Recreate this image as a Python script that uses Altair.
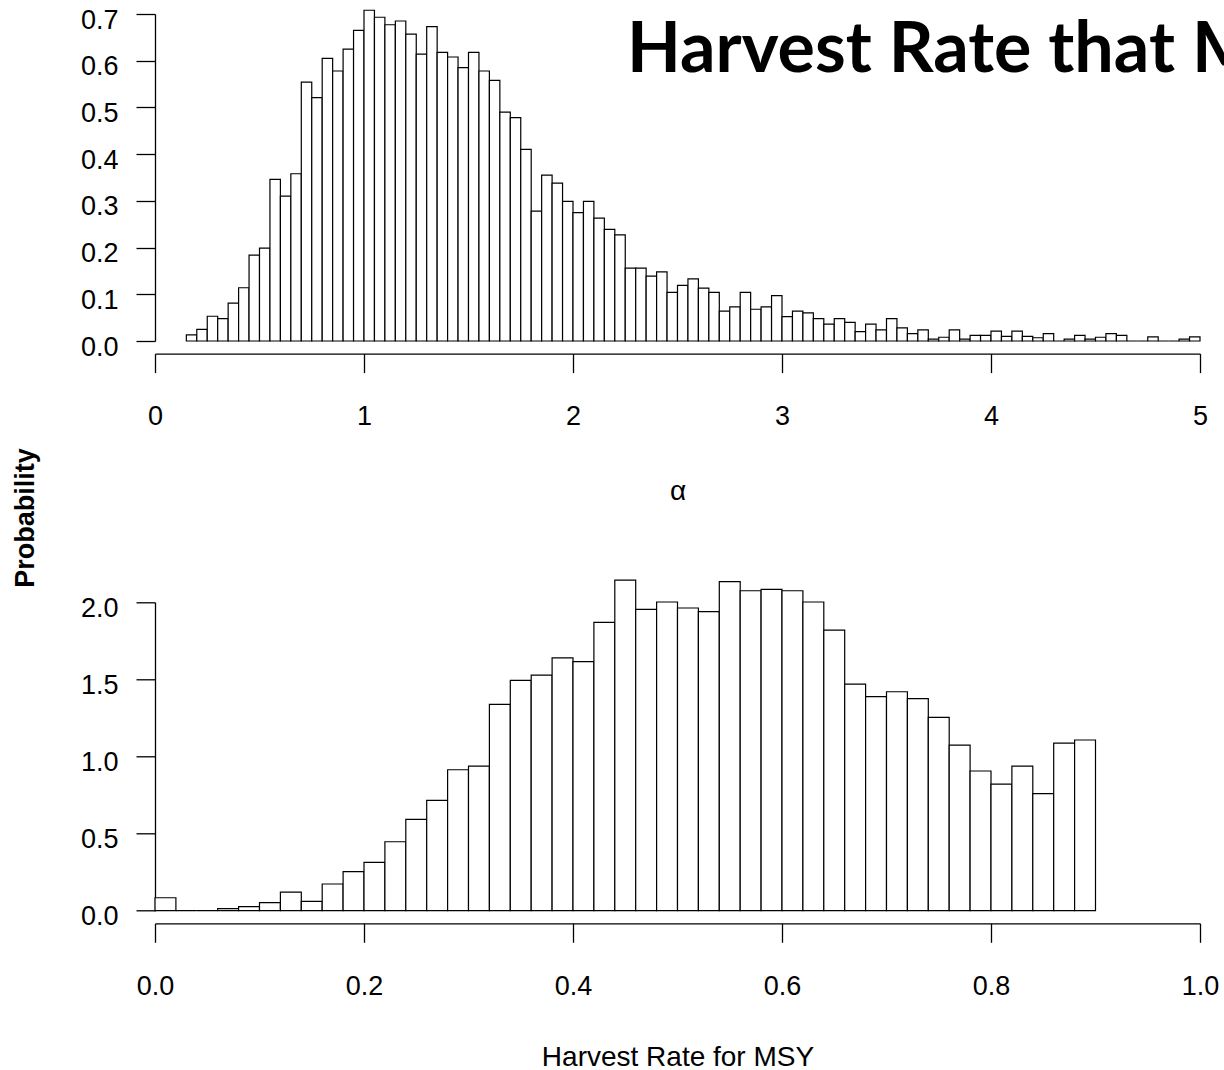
import altair as alt
import pandas as pd

# ---------------- data ----------------
# Top panel: posterior density of alpha, bins of width 0.05 starting at 0.15
alpha_first_bin = 0.15
alpha_bin_width = 0.05
alpha_density = [
    0.013, 0.025, 0.053, 0.048, 0.081, 0.114, 0.184, 0.199, 0.346, 0.310,
    0.358, 0.554, 0.521, 0.605, 0.578, 0.625, 0.665, 0.708, 0.693, 0.677,
    0.685, 0.657, 0.614, 0.673, 0.618, 0.608, 0.585, 0.618, 0.578, 0.558,
    0.490, 0.478, 0.410, 0.278, 0.355, 0.338, 0.299, 0.275, 0.299, 0.263,
    0.239, 0.227, 0.156, 0.156, 0.139, 0.148, 0.104, 0.119, 0.133, 0.113,
    0.104, 0.064, 0.073, 0.104, 0.068, 0.073, 0.097, 0.052, 0.064, 0.060,
    0.048, 0.036, 0.048, 0.040, 0.020, 0.036, 0.024, 0.048, 0.028, 0.016,
    0.024, 0.004, 0.008, 0.024, 0.004, 0.012, 0.012, 0.021, 0.010, 0.021,
    0.010, 0.007, 0.016, 0.000, 0.004, 0.012, 0.004, 0.008, 0.016, 0.012,
    0.000, 0.000, 0.009, 0.000, 0.000, 0.004, 0.009,
]
alpha_ticks = [0, 1, 2, 3, 4, 5]
alpha_yticks = [0.0, 0.1, 0.2, 0.3, 0.4, 0.5, 0.6, 0.7]

# Bottom panel: harvest rate for MSY, bins of width 0.02 starting at 0
hr_first_bin = 0.0
hr_bin_width = 0.02
hr_density = [
    0.084, 0.000, 0.000, 0.013, 0.026, 0.052, 0.121, 0.061, 0.173, 0.253,
    0.313, 0.447, 0.592, 0.716, 0.914, 0.938, 1.338, 1.494, 1.528, 1.639,
    1.615, 1.870, 2.144, 1.954, 2.002, 1.963, 1.939, 2.134, 2.075, 2.084,
    2.075, 2.002, 1.820, 1.470, 1.388, 1.420, 1.375, 1.254, 1.074, 0.906,
    0.821, 0.938, 0.759, 1.087, 1.107,
]
hr_ticks = [0.0, 0.2, 0.4, 0.6, 0.8, 1.0]
hr_yticks = [0.0, 0.5, 1.0, 1.5, 2.0]

title_text = "Harvest Rate that M"
ylab_text = "Probability"
top_xlab = "α"
bot_xlab = "Harvest Rate for MSY"


def hist_frame(first, width, dens):
    starts = [round(first + i * width, 4) for i in range(len(dens))]
    ends = [round(s + width, 4) for s in starts]
    return pd.DataFrame({"start": starts, "end": ends, "density": dens})


df_top = hist_frame(alpha_first_bin, alpha_bin_width, alpha_density)
df_bot = hist_frame(hr_first_bin, hr_bin_width, hr_density)

# ---------------- styling ----------------
FONT = "Liberation Sans"
W = 1045            # plot width of each panel
W_TOP_VIEW = 1069   # top view reaches the right edge so the title is cut there
H_TOP = 327
H_BOT = 308.4

axis_style = dict(
    grid=False,
    domainColor="black",
    domainWidth=1.3,
    tickColor="black",
    tickWidth=1.3,
    tickSize=19,
    labelFont=FONT,
    labelFontSize=27,
    labelColor="black",
    labelOverlap=False,
    labelFlush=False,
    titleFont=FONT,
    titleFontSize=28,
    titleFontWeight="normal",
    titleColor="black",
)

bar_style = dict(fill="white", stroke="black", strokeWidth=1.2)


def x_axis(values, fmt, title, title_x, title_y):
    return alt.Axis(
        values=values, format=fmt, offset=12.6, labelPadding=31,
        title=title, titleBaseline="alphabetic", titleX=title_x, titleY=title_y,
        titleAlign="center", **axis_style,
    )


def y_axis(values):
    return alt.Axis(
        values=values, format=".1f", labelPadding=18, labelOffset=6,
        title=None, **axis_style,
    )


# ---------------- top panel ----------------
frame = alt.Chart(pd.DataFrame({"k": [0]})).mark_rect(
    fill="white", fillOpacity=0, strokeOpacity=0
).encode(
    x=alt.value(-155), x2=alt.value(1224 - 155),
    y=alt.value(-14), y2=alt.value(1070 - 14),
)

bars_top = alt.Chart(df_top).mark_rect(**bar_style).encode(
    x=alt.X("start:Q",
            scale=alt.Scale(domain=[0, 5], range=[0, W], nice=False, zero=False),
            axis=x_axis(alpha_ticks, "d", top_xlab, W / 2, 145.7)),
    x2="end:Q",
    y=alt.Y("density:Q", scale=alt.Scale(domain=[0, 0.7], nice=False),
            axis=y_axis(alpha_yticks)),
    y2=alt.datum(0),
)

title_mark = alt.Chart(pd.DataFrame({"t": [title_text]})).mark_text(
    font="Lato", fontSize=70, fontWeight="bold", clip=True,
    align="left", baseline="alphabetic", color="black",
).encode(text="t:N", x=alt.value(472), y=alt.value(58))

ylab_mark = alt.Chart(pd.DataFrame({"t": [ylab_text]})).mark_text(
    font=FONT, fontSize=27, fontWeight="bold", angle=270,
    align="center", baseline="alphabetic", color="black",
).encode(text="t:N", x=alt.value(34.3 - 155), y=alt.value(518 - 14))

top = alt.layer(frame, bars_top, title_mark, ylab_mark).properties(
    width=W_TOP_VIEW, height=H_TOP
)

# ---------------- bottom panel ----------------
bars_bot = alt.Chart(df_bot).mark_rect(**bar_style).encode(
    x=alt.X("start:Q", scale=alt.Scale(domain=[0, 1], nice=False, zero=False),
            axis=x_axis(hr_ticks, ".1f", bot_xlab, W / 2, 141.7)),
    x2="end:Q",
    y=alt.Y("density:Q", scale=alt.Scale(domain=[0, 2.0], nice=False),
            axis=y_axis(hr_yticks)),
    y2=alt.datum(0),
)

bottom = bars_bot.properties(width=W, height=H_BOT)

chart = alt.vconcat(
    top, bottom, spacing=602.3 - 14 - H_TOP, bounds="flush", padding=0,
).properties(background="white").configure_view(stroke=None)

chart.save("out.html", embed_options={"renderer": "svg", "actions": False})
